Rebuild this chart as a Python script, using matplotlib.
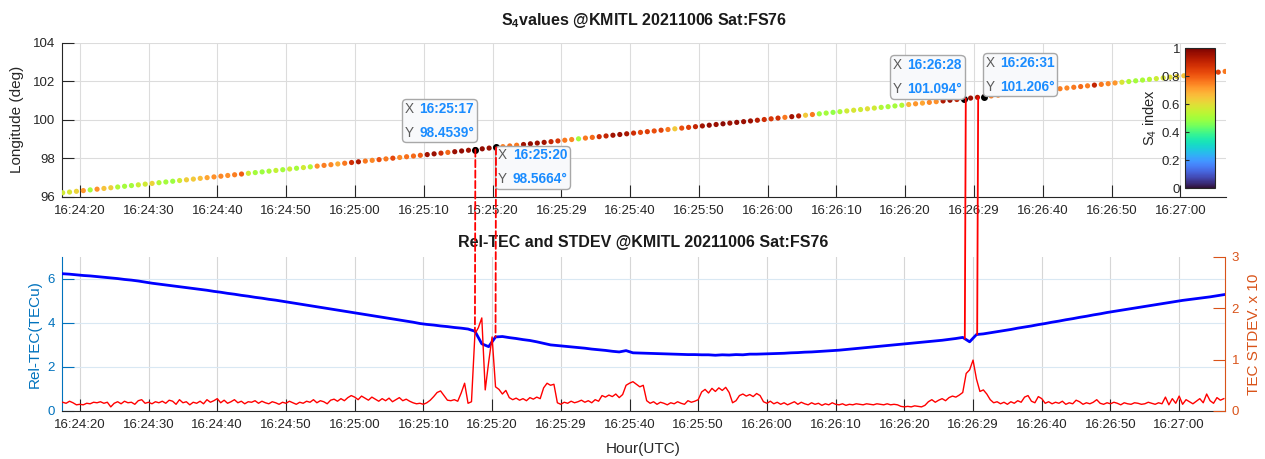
import numpy as np
import matplotlib
matplotlib.use("Agg")
import matplotlib.pyplot as plt
from matplotlib.patches import ConnectionPatch
from matplotlib.offsetbox import TextArea, HPacker, VPacker, AnnotationBbox

plt.rcParams['font.family'] = ['Liberation Sans', 'DejaVu Sans']
plt.rcParams['mathtext.fontset'] = 'custom'
plt.rcParams['mathtext.rm'] = 'Liberation Sans'
plt.rcParams['mathtext.bf'] = 'Liberation Sans:bold'

# time axis is seconds after 16:24:00 UTC
tick_labels = ["16:24:20", "16:24:30", "16:24:40", "16:24:50", "16:25:00", "16:25:10",
               "16:25:20", "16:25:29", "16:25:40", "16:25:50", "16:26:00", "16:26:10",
               "16:26:20", "16:26:29", "16:26:40", "16:26:50", "16:27:00"]

# one S4 sample per second along the track
dot_time = np.arange(17.5, 187, 1.0)
longitude = np.array([
    96.204, 96.241, 96.279, 96.316, 96.354, 96.391, 96.429, 96.466, 96.504, 96.541,
    96.579, 96.616, 96.654, 96.691, 96.729, 96.766, 96.804, 96.841, 96.879, 96.916,
    96.954, 96.991, 97.029, 97.066, 97.104, 97.141, 97.179, 97.216, 97.254, 97.291,
    97.329, 97.366, 97.404, 97.441, 97.479, 97.516, 97.554, 97.591, 97.629, 97.666,
    97.704, 97.741, 97.779, 97.816, 97.854, 97.891, 97.929, 97.966, 98.004, 98.041,
    98.079, 98.116, 98.154, 98.191, 98.229, 98.266, 98.304, 98.341, 98.379, 98.416,
    98.4539, 98.491, 98.529, 98.5664, 98.604, 98.641, 98.678, 98.715, 98.752, 98.789,
    98.827, 98.864, 98.901, 98.938, 98.975, 99.012, 99.050, 99.087, 99.124, 99.161,
    99.198, 99.236, 99.273, 99.310, 99.347, 99.384, 99.421, 99.459, 99.496, 99.533,
    99.570, 99.607, 99.644, 99.682, 99.719, 99.756, 99.793, 99.830, 99.867, 99.905,
    99.942, 99.979, 100.016, 100.053, 100.090, 100.128, 100.165, 100.202, 100.239, 100.276,
    100.313, 100.351, 100.388, 100.425, 100.462, 100.499, 100.536, 100.574, 100.611, 100.648,
    100.685, 100.722, 100.759, 100.797, 100.834, 100.871, 100.908, 100.945, 100.983, 101.020,
    101.057, 101.094, 101.131, 101.169, 101.206, 101.244, 101.281, 101.319, 101.356, 101.394,
    101.431, 101.469, 101.506, 101.544, 101.581, 101.619, 101.656, 101.694, 101.731, 101.769,
    101.806, 101.844, 101.881, 101.919, 101.956, 101.994, 102.031, 102.069, 102.106, 102.144,
    102.181, 102.219, 102.256, 102.294, 102.331, 102.369, 102.406, 102.444, 102.481, 102.519])
s4 = np.array([
    0.57, 0.58, 0.62, 0.72, 0.50, 0.73, 0.65, 0.63, 0.52, 0.50,
    0.50, 0.56, 0.57, 0.62, 0.52, 0.50, 0.49, 0.57, 0.63, 0.64,
    0.66, 0.70, 0.73, 0.74, 0.73, 0.75, 0.80, 0.57, 0.50, 0.49,
    0.51, 0.55, 0.50, 0.56, 0.50, 0.57, 0.52, 0.73, 0.75, 0.74,
    0.69, 0.76, 0.88, 0.93, 0.76, 0.74, 0.82, 0.76, 0.83, 0.74,
    0.77, 0.78, 0.80, 0.95, 0.96, 0.88, 0.78, 0.96, 0.97, 0.95,
    0.98, 0.97, 0.96, 0.98, 0.75, 0.77, 0.76, 0.95, 0.97, 0.96,
    0.95, 0.90, 0.86, 0.76, 0.74, 0.50, 0.76, 0.78, 0.88, 0.90,
    0.95, 0.96, 0.94, 0.88, 0.83, 0.85, 0.82, 0.84, 0.76, 0.64,
    0.82, 0.85, 0.90, 0.95, 0.97, 0.96, 0.98, 0.95, 0.97, 0.96,
    0.96, 0.92, 0.88, 0.86, 0.88, 0.76, 0.95, 0.92, 0.64, 0.76,
    0.49, 0.50, 0.48, 0.51, 0.57, 0.58, 0.56, 0.60, 0.57, 0.52,
    0.51, 0.50, 0.52, 0.68, 0.72, 0.70, 0.74, 0.73, 0.93, 0.96,
    0.90, 0.97, 0.96, 0.93, 0.98, 0.76, 0.74, 0.75, 0.72, 0.78,
    0.74, 0.70, 0.76, 0.73, 0.77, 0.75, 0.74, 0.76, 0.78, 0.75,
    0.90, 0.76, 0.74, 0.72, 0.58, 0.52, 0.50, 0.51, 0.53, 0.56,
    0.58, 0.60, 0.62, 0.65, 0.70, 0.75, 0.80, 0.82, 0.84, 0.76])

# relative TEC, 1 s samples
tec_time = np.arange(17.5, 187, 1.0)
rel_tec = np.array([
    6.23, 6.21, 6.18, 6.15, 6.13, 6.10, 6.07, 6.04, 6.01, 5.97,
    5.94, 5.90, 5.85, 5.80, 5.76, 5.72, 5.68, 5.64, 5.60, 5.56,
    5.52, 5.48, 5.43, 5.39, 5.34, 5.30, 5.25, 5.21, 5.16, 5.12,
    5.07, 5.03, 4.98, 4.93, 4.88, 4.83, 4.78, 4.73, 4.68, 4.63,
    4.58, 4.53, 4.48, 4.43, 4.38, 4.33, 4.28, 4.23, 4.18, 4.13,
    4.08, 4.03, 3.97, 3.93, 3.90, 3.86, 3.83, 3.79, 3.76, 3.72,
    3.62, 3.05, 2.92, 3.36, 3.38, 3.33, 3.29, 3.24, 3.20, 3.14,
    3.07, 3.00, 2.97, 2.94, 2.91, 2.88, 2.85, 2.81, 2.78, 2.75,
    2.71, 2.68, 2.74, 2.64, 2.63, 2.62, 2.61, 2.60, 2.59, 2.58,
    2.57, 2.56, 2.56, 2.55, 2.55, 2.53, 2.55, 2.54, 2.56, 2.55,
    2.58, 2.58, 2.59, 2.60, 2.61, 2.62, 2.64, 2.65, 2.67, 2.68,
    2.70, 2.72, 2.74, 2.76, 2.79, 2.82, 2.85, 2.88, 2.91, 2.94,
    2.97, 3.00, 3.03, 3.06, 3.09, 3.12, 3.15, 3.18, 3.21, 3.25,
    3.29, 3.34, 3.14, 3.47, 3.50, 3.55, 3.60, 3.65, 3.70, 3.76,
    3.81, 3.86, 3.92, 3.97, 4.03, 4.08, 4.14, 4.19, 4.25, 4.30,
    4.36, 4.41, 4.47, 4.52, 4.57, 4.62, 4.67, 4.72, 4.77, 4.82,
    4.87, 4.92, 4.97, 5.02, 5.06, 5.10, 5.14, 5.18, 5.23, 5.28])

# TEC standard deviation (x10), 0.5 s samples
std_time = np.arange(17.5, 187, 0.5)
tec_std = np.array([
    0.17, 0.15, 0.19, 0.16, 0.12, 0.13, 0.12, 0.15, 0.14, 0.17,
    0.16, 0.18, 0.15, 0.17, 0.08, 0.15, 0.18, 0.14, 0.19, 0.16,
    0.17, 0.13, 0.20, 0.22, 0.15, 0.17, 0.14, 0.18, 0.16, 0.19,
    0.15, 0.21, 0.19, 0.13, 0.22, 0.16, 0.18, 0.12, 0.17, 0.15,
    0.19, 0.14, 0.22, 0.17, 0.20, 0.24, 0.16, 0.21, 0.15, 0.18,
    0.22, 0.16, 0.19, 0.14, 0.18, 0.17, 0.20, 0.15, 0.19, 0.16,
    0.14, 0.18, 0.16, 0.13, 0.17, 0.15, 0.19, 0.16, 0.13, 0.17,
    0.15, 0.19, 0.17, 0.22, 0.16, 0.20, 0.18, 0.14, 0.21, 0.23,
    0.19, 0.24, 0.20, 0.26, 0.30, 0.27, 0.22, 0.29, 0.25, 0.21,
    0.27, 0.23, 0.19, 0.24, 0.20, 0.25, 0.18, 0.22, 0.26, 0.20,
    0.23, 0.19, 0.16, 0.14, 0.15, 0.13, 0.16, 0.21, 0.28, 0.36,
    0.39, 0.30, 0.21, 0.20, 0.22, 0.19, 0.35, 0.54, 0.15, 0.18,
    1.50, 1.62, 1.81, 0.41, 0.95, 1.44, 0.47, 0.42, 0.33, 0.40,
    0.26, 0.22, 0.25, 0.21, 0.24, 0.20, 0.26, 0.23, 0.27, 0.24,
    0.45, 0.54, 0.50, 0.52, 0.16, 0.13, 0.17, 0.15, 0.19, 0.16,
    0.18, 0.21, 0.17, 0.20, 0.16, 0.22, 0.19, 0.30, 0.27, 0.31,
    0.28, 0.33, 0.26, 0.32, 0.50, 0.54, 0.57, 0.52, 0.47, 0.50,
    0.20, 0.15, 0.18, 0.13, 0.17, 0.15, 0.12, 0.16, 0.14, 0.18,
    0.15, 0.13, 0.20, 0.17, 0.19, 0.22, 0.37, 0.42, 0.35, 0.44,
    0.38, 0.45, 0.40, 0.46, 0.36, 0.16, 0.20, 0.30, 0.33, 0.29,
    0.32, 0.28, 0.34, 0.30, 0.18, 0.15, 0.19, 0.14, 0.17, 0.13,
    0.16, 0.12, 0.15, 0.18, 0.13, 0.17, 0.14, 0.12, 0.16, 0.13,
    0.15, 0.11, 0.14, 0.12, 0.16, 0.13, 0.12, 0.14, 0.11, 0.13,
    0.12, 0.14, 0.13, 0.12, 0.14, 0.13, 0.12, 0.14, 0.13, 0.12,
    0.14, 0.12, 0.13, 0.12, 0.09, 0.08, 0.09, 0.08, 0.10, 0.09,
    0.08, 0.11, 0.18, 0.22, 0.17, 0.21, 0.24, 0.20, 0.26, 0.29,
    0.27, 0.31, 0.36, 0.73, 0.80, 0.99, 0.62, 0.38, 0.41, 0.33,
    0.22, 0.16, 0.18, 0.14, 0.17, 0.13, 0.18, 0.15, 0.20, 0.17,
    0.27, 0.30, 0.19, 0.16, 0.28, 0.24, 0.15, 0.18, 0.14, 0.17,
    0.15, 0.19, 0.13, 0.16, 0.14, 0.21, 0.18, 0.13, 0.16, 0.14,
    0.17, 0.22, 0.15, 0.13, 0.16, 0.14, 0.17, 0.15, 0.12, 0.16,
    0.14, 0.13, 0.16, 0.15, 0.13, 0.14, 0.17, 0.15, 0.13, 0.16,
    0.14, 0.27, 0.12, 0.24, 0.15, 0.29, 0.13, 0.22, 0.18, 0.14,
    0.19, 0.24, 0.16, 0.33, 0.20, 0.15, 0.26, 0.21, 0.24])

# data tips on the S4 track and the event markers linking both panels
tip_idx = [60, 63, 131, 134]
event_times = [77.5, 80.5, 148.8, 150.6]
event_styles = ['dashed', 'dashed', 'solid', 'solid']

AX_COL = '#262626'
LEFT_COL = '#0072bd'
RIGHT_COL = '#d95319'


def hms(t):
    s = int(t)
    return "16:%02d:%02d" % (24 + s // 60, s % 60)


def matlab_axes(ax):
    ax.tick_params(direction='in', length=8.5, width=0.8, labelsize=9.5, colors=AX_COL)
    ax.tick_params(axis='x', pad=6)
    ax.tick_params(axis='y', pad=5)
    ax.spines['top'].set_visible(False)
    ax.spines['right'].set_visible(False)
    for sp in ('left', 'bottom'):
        ax.spines[sp].set_color(AX_COL)
        ax.spines[sp].set_linewidth(0.8)
    ax.set_axisbelow(True)


fig = plt.figure(figsize=(12.65, 4.59), dpi=100)
ax1 = fig.add_axes([0.049, 0.5715, 0.920, 0.3349])
ax2 = fig.add_axes([0.049, 0.1046, 0.919, 0.336])

ticks = np.arange(20, 181, 10)

# --- S4 along the track ---
matlab_axes(ax1)
sc = ax1.scatter(dot_time, longitude, c=s4, cmap='turbo', vmin=0, vmax=1,
                 s=14, edgecolors='none', zorder=3)
ax1.scatter(dot_time[tip_idx], longitude[tip_idx], c='black', s=16, zorder=4)
ax1.set_xlim(17.4, 186.6)
ax1.set_ylim(96, 104)
ax1.set_yticks([96, 98, 100, 102, 104])
ax1.set_xticks(ticks)
ax1.set_xticklabels(tick_labels)
ax1.grid(True, color='#dcdcdc', lw=0.8)
ax1.set_ylabel('Longitude (deg)', fontsize=11, color=AX_COL, labelpad=6)
ax1.set_title(r'S$_\mathbf{4}$values @KMITL 20211006 Sat:FS76', fontsize=11.5,
              fontweight='bold', color='#1a1a1a', pad=13)

cax = fig.add_axes([0.9368, 0.5904, 0.0237, 0.305])
cb = fig.colorbar(sc, cax=cax, ticks=[0, 0.2, 0.4, 0.6, 0.8, 1])
cb.ax.set_yticklabels(['0', '0.2', '0.4', '0.6', '0.8', '1'])
cax.yaxis.set_ticks_position('left')
cax.yaxis.set_label_position('left')
cax.tick_params(direction='in', length=3, labelsize=9.5, colors=AX_COL)
cb.outline.set_edgecolor(AX_COL)
cb.outline.set_linewidth(0.8)
cb.set_label('S$_4$ index', fontsize=10.5, color=AX_COL, labelpad=2)

tip_offsets = [(-1, 10, (1, 0)), (2, -1, (0, 1)), (-2, 3, (1, 0)), (1, 3, (0, 0))]
grey = dict(color='#5a5a5a', fontsize=9.8)
blue = dict(color='#1a8cff', fontsize=9.8, fontweight='bold')
for i, (dx, dy, align) in zip(tip_idx, tip_offsets):
    r1 = HPacker(children=[TextArea('X', textprops=grey),
                           TextArea(hms(dot_time[i]), textprops=blue)], pad=0, sep=4)
    r2 = HPacker(children=[TextArea('Y', textprops=grey),
                           TextArea('%.6g°' % longitude[i], textprops=blue)], pad=0, sep=4)
    box = VPacker(children=[r1, r2], pad=0, sep=7, align='left')
    ab = AnnotationBbox(box, (dot_time[i], longitude[i]), xybox=(dx, dy),
                        xycoords='data', boxcoords='offset pixels',
                        box_alignment=align, pad=0.6, annotation_clip=False,
                        bboxprops=dict(boxstyle='round,pad=0.2,rounding_size=0.3',
                                       fc='#f8f9fb', ec='#a8a8a8', lw=1))
    ab.set_zorder(6)
    ax1.add_artist(ab)

# --- Rel-TEC and STDEV ---
matlab_axes(ax2)
ax2.spines['left'].set_color(LEFT_COL)
ax2.tick_params(axis='y', colors=LEFT_COL)
ax2.plot(tec_time, rel_tec, color='blue', lw=2, zorder=3)
ax2.set_xlim(17.4, 186.6)
ax2.set_ylim(0, 7)
ax2.set_yticks([0, 2, 4, 6])
ax2.set_xticks(ticks)
ax2.set_xticklabels(tick_labels)
ax2.grid(True, axis='x', color='#d6d6d6', lw=0.8)
ax2.grid(True, axis='y', color='#d9e8f3', lw=0.8)
ax2.set_ylabel('Rel-TEC(TECu)', fontsize=11, color=LEFT_COL, labelpad=4)
ax2.set_xlabel('Hour(UTC)', fontsize=11, color=AX_COL, labelpad=8)
ax2.set_title('Rel-TEC and STDEV @KMITL 20211006 Sat:FS76', fontsize=11.5,
              fontweight='bold', color='#1a1a1a', pad=7)

ax3 = ax2.twinx()
ax3.plot(std_time, tec_std, color='red', lw=1, zorder=3)
ax3.set_ylim(0, 3)
ax3.set_yticks([0, 1, 2, 3])
ax3.tick_params(direction='in', length=8.5, width=0.8, labelsize=9.5, colors=RIGHT_COL, pad=5)
for sp in ('top', 'left', 'bottom'):
    ax3.spines[sp].set_visible(False)
ax3.spines['right'].set_color(RIGHT_COL)
ax3.spines['right'].set_linewidth(0.8)
ax3.set_ylabel('TEC STDEV. x 10', fontsize=11, color=RIGHT_COL, labelpad=6)

# red markers from the S4 track down to the TEC curve
for t, ls in zip(event_times, event_styles):
    top = np.interp(t, dot_time, longitude)
    bot = np.interp(t, tec_time, rel_tec)
    con = ConnectionPatch(xyA=(t, top), coordsA=ax1.transData,
                          xyB=(t, bot), coordsB=ax2.transData,
                          color='red', lw=1.3,
                          linestyle=(0, (4, 1.8)) if ls == 'dashed' else '-')
    fig.add_artist(con)

fig.savefig('out.png', dpi=100)
